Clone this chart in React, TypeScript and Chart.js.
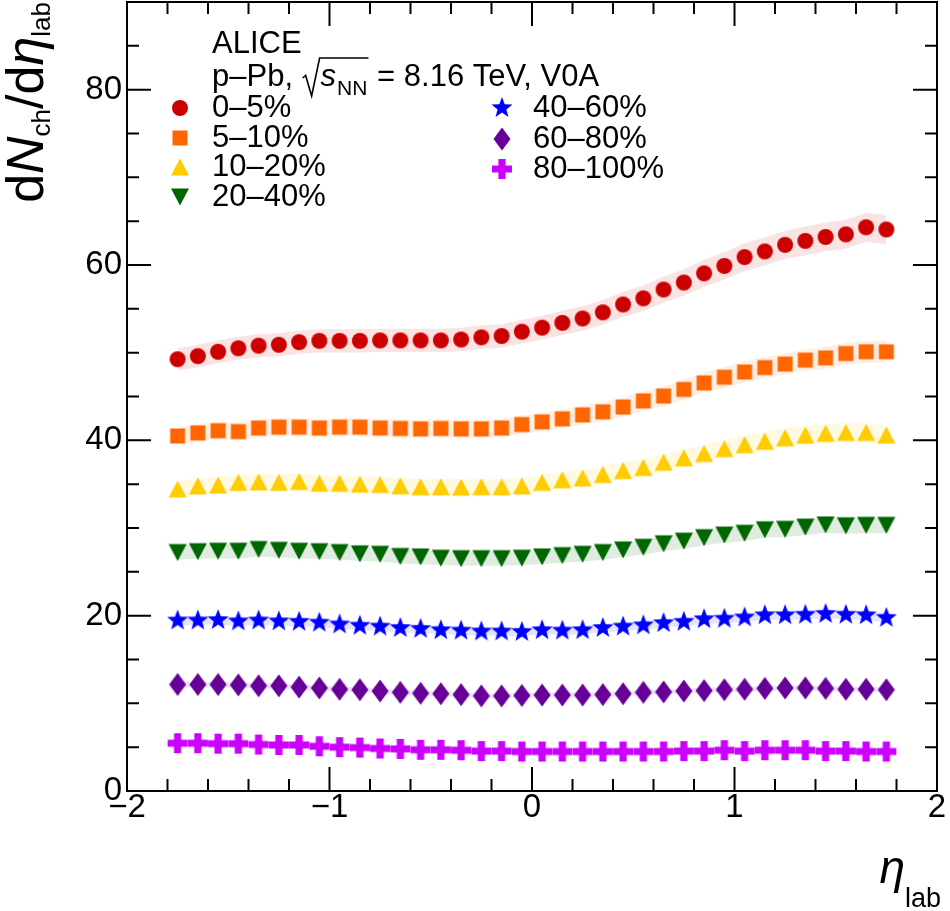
import { useEffect, useRef } from 'react';
import { Chart, registerables } from 'chart.js';
import type { Plugin } from 'chart.js';

Chart.register(...registerables);

// η_lab bin centres
const etaLab = [
  -1.75, -1.65, -1.55, -1.45, -1.35, -1.25, -1.15, -1.05, -0.95, -0.85, -0.75, -0.65,
  -0.55, -0.45, -0.35, -0.25, -0.15, -0.05, 0.05, 0.15, 0.25, 0.35, 0.45, 0.55,
  0.65, 0.75, 0.85, 0.95, 1.05, 1.15, 1.25, 1.35, 1.45, 1.55, 1.65, 1.75,
];

const cent0_5 = [
  49.25, 49.6, 50.1, 50.5, 50.8, 50.9, 51.2, 51.35, 51.35, 51.35, 51.4, 51.4,
  51.4, 51.4, 51.5, 51.75, 51.9, 52.4, 52.85, 53.4, 53.9, 54.6, 55.5, 56.2,
  57.2, 58.0, 59.05, 59.9, 60.9, 61.55, 62.3, 62.75, 63.2, 63.5, 64.3, 64.05,
];
const cent5_10 = [
  40.5, 40.85, 41.1, 41.0, 41.4, 41.5, 41.5, 41.4, 41.5, 41.5, 41.4, 41.35,
  41.3, 41.35, 41.3, 41.3, 41.4, 41.8, 42.1, 42.45, 42.9, 43.25, 43.8, 44.5,
  45.05, 45.8, 46.55, 47.2, 47.8, 48.3, 48.7, 49.15, 49.4, 49.9, 50.1, 50.1,
];
const cent10_20 = [
  34.45, 34.8, 34.9, 35.2, 35.25, 35.2, 35.3, 35.1, 35.1, 35.0, 34.95, 34.8,
  34.7, 34.7, 34.65, 34.7, 34.7, 34.8, 35.2, 35.5, 35.7, 36.1, 36.55, 36.9,
  37.5, 38.0, 38.5, 39.05, 39.5, 39.9, 40.3, 40.6, 40.8, 40.9, 40.9, 40.6,
];
const cent20_40 = [
  27.2, 27.3, 27.35, 27.35, 27.55, 27.45, 27.35, 27.3, 27.2, 27.05, 27.0, 26.75,
  26.7, 26.55, 26.5, 26.5, 26.5, 26.55, 26.7, 26.85, 27.0, 27.2, 27.5, 27.8,
  28.2, 28.5, 28.9, 29.2, 29.4, 29.8, 29.85, 30.1, 30.35, 30.25, 30.3, 30.3,
];
const cent40_60 = [
  19.45, 19.45, 19.5, 19.35, 19.45, 19.35, 19.3, 19.2, 19.0, 18.85, 18.75, 18.6,
  18.5, 18.35, 18.3, 18.2, 18.2, 18.15, 18.35, 18.3, 18.35, 18.6, 18.75, 18.9,
  19.15, 19.3, 19.6, 19.65, 19.8, 20.05, 20.05, 20.1, 20.2, 20.1, 20.05, 19.75,
];
const cent60_80 = [
  12.15, 12.15, 12.15, 12.1, 12.0, 12.0, 11.85, 11.75, 11.6, 11.55, 11.4, 11.25,
  11.15, 11.1, 11.0, 10.85, 10.85, 10.9, 10.95, 10.95, 10.95, 11.0, 11.1, 11.25,
  11.3, 11.4, 11.45, 11.55, 11.6, 11.7, 11.75, 11.75, 11.7, 11.6, 11.6, 11.55,
];
const cent80_100 = [
  5.45, 5.45, 5.4, 5.4, 5.3, 5.25, 5.25, 5.1, 5.0, 4.95, 4.85, 4.8,
  4.7, 4.7, 4.65, 4.55, 4.55, 4.5, 4.5, 4.5, 4.5, 4.5, 4.5, 4.5,
  4.5, 4.55, 4.55, 4.65, 4.55, 4.65, 4.65, 4.65, 4.55, 4.55, 4.5, 4.5,
];

const classLabels = ['0–5%', '5–10%', '10–20%', '20–40%', '40–60%', '60–80%', '80–100%'];
// relative systematic uncertainty (band half width)
const sysRel = [0.026, 0.025, 0.026, 0.03, 0.026, 0.026, 0.03];

const markerColors = ['#cc0000', '#ff6600', '#ffcc00', '#006600', '#0000ff', '#660099', '#cc00ff'];
const bandColors = [
  'rgba(204,0,0,0.11)',
  'rgba(255,102,0,0.11)',
  'rgba(255,204,0,0.12)',
  'rgba(0,102,0,0.12)',
  'rgba(0,0,255,0.11)',
  'rgba(102,0,153,0.11)',
  'rgba(204,0,255,0.11)',
];

type Shape = 'circle' | 'square' | 'triUp' | 'triDown' | 'star' | 'diamond' | 'cross';
const markerShapes: Shape[] = ['circle', 'square', 'triUp', 'triDown', 'star', 'diamond', 'cross'];

const FONT = '"Liberation Sans", Arial, Helvetica, sans-serif';
const LEG = 31;

function makeMarker(shape: Shape, color: string): HTMLCanvasElement {
  const size = 26;
  const c = document.createElement('canvas');
  c.width = size;
  c.height = size;
  const g = c.getContext('2d')!;
  g.fillStyle = color;
  g.translate(size / 2, size / 2);
  g.beginPath();
  switch (shape) {
    case 'circle':
      g.arc(0, 0, 8, 0, Math.PI * 2);
      break;
    case 'square':
      g.rect(-7.5, -7.5, 15, 15);
      break;
    case 'triUp':
      g.moveTo(0, -8.5);
      g.lineTo(9, 8.5);
      g.lineTo(-9, 8.5);
      g.closePath();
      break;
    case 'triDown':
      g.moveTo(0, 8.5);
      g.lineTo(9, -8.5);
      g.lineTo(-9, -8.5);
      g.closePath();
      break;
    case 'star':
      for (let k = 0; k < 10; k++) {
        const r = k % 2 === 0 ? 11 : 4.6;
        const a = -Math.PI / 2 + (k * Math.PI) / 5;
        if (k === 0) g.moveTo(r * Math.cos(a), r * Math.sin(a));
        else g.lineTo(r * Math.cos(a), r * Math.sin(a));
      }
      g.closePath();
      break;
    case 'diamond':
      g.moveTo(0, -11.5);
      g.lineTo(8.5, 0);
      g.lineTo(0, 11.5);
      g.lineTo(-8.5, 0);
      g.closePath();
      break;
    case 'cross': {
      const a = 10, t = 3.6;
      g.moveTo(-t, -a);
      g.lineTo(t, -a);
      g.lineTo(t, -t);
      g.lineTo(a, -t);
      g.lineTo(a, t);
      g.lineTo(t, t);
      g.lineTo(t, a);
      g.lineTo(-t, a);
      g.lineTo(-t, t);
      g.lineTo(-a, t);
      g.lineTo(-a, -t);
      g.lineTo(-t, -t);
      g.closePath();
      break;
    }
  }
  g.fill();
  return c;
}

const fmtTick = (v: number) => String(v).replace('-', '\u2212');

// inward ticks on all four sides plus the frame
const framePlugin: Plugin<'line'> = {
  id: 'rootFrame',
  afterDraw(chart) {
    const { ctx, chartArea: a, scales } = chart;
    const xs = scales.x;
    const ys = scales.y;
    ctx.save();
    ctx.strokeStyle = '#000';
    ctx.lineWidth = 2;
    ctx.beginPath();
    for (let i = -20; i <= 20; i += 2) {
      const v = i / 10;
      const px = xs.getPixelForValue(v);
      const len = i % 10 === 0 ? 24 : 12;
      ctx.moveTo(px, a.bottom);
      ctx.lineTo(px, a.bottom - len);
      ctx.moveTo(px, a.top);
      ctx.lineTo(px, a.top + len);
    }
    for (let v = 0; v <= 90; v += 5) {
      const py = ys.getPixelForValue(v);
      const len = v % 20 === 0 ? 24 : 12;
      ctx.moveTo(a.left, py);
      ctx.lineTo(a.left + len, py);
      ctx.moveTo(a.right, py);
      ctx.lineTo(a.right - len, py);
    }
    ctx.stroke();
    ctx.strokeRect(a.left, a.top, a.right - a.left, a.bottom - a.top);
    ctx.restore();
  },
};

type Run = { t: string; size: number; italic?: boolean; dy?: number };

function drawRuns(ctx: CanvasRenderingContext2D, runs: Run[], x: number, y: number) {
  let cx = x;
  for (const r of runs) {
    ctx.font = `${r.italic ? 'italic ' : ''}${r.size}px ${FONT}`;
    ctx.fillText(r.t, cx, y + (r.dy || 0));
    cx += ctx.measureText(r.t).width;
  }
  return cx;
}

function runsWidth(ctx: CanvasRenderingContext2D, runs: Run[]) {
  let w = 0;
  for (const r of runs) {
    ctx.font = `${r.italic ? 'italic ' : ''}${r.size}px ${FONT}`;
    w += ctx.measureText(r.t).width;
  }
  return w;
}

const makeTextPlugin = (markers: HTMLCanvasElement[]): Plugin<'line'> => ({
  id: 'rootText',
  afterDraw(chart) {
    const { ctx } = chart;
    ctx.save();
    ctx.fillStyle = '#000';
    ctx.strokeStyle = '#000';
    ctx.textBaseline = 'alphabetic';
    ctx.textAlign = 'left';

    // header
    ctx.font = `${LEG}px ${FONT}`;
    ctx.fillText('ALICE', 212, 53);
    let x = drawRuns(ctx, [{ t: 'p–Pb, ', size: LEG }], 212, 86);
    const rootW = runsWidth(ctx, [
      { t: 's', size: LEG, italic: true },
      { t: 'NN', size: 21 },
    ]);
    ctx.lineWidth = 1.6;
    ctx.beginPath();
    ctx.moveTo(x + 1, 78);
    ctx.lineTo(x + 4, 75.5);
    ctx.lineTo(x + 10, 96);
    ctx.lineTo(x + 18, 58);
    ctx.lineTo(x + 21 + rootW, 58);
    ctx.stroke();
    x = drawRuns(ctx, [{ t: 's', size: LEG, italic: true }], x + 19, 86);
    x = drawRuns(ctx, [{ t: 'NN', size: 21, dy: 9 }], x + 1, 86);
    drawRuns(ctx, [{ t: ' = 8.16 TeV, V0A', size: LEG }], x + 1, 86);

    // legend entries
    const rowsLeft = [108, 138, 167, 197];
    const rowsRight = [108, 139, 169];
    ctx.textBaseline = 'middle';
    ctx.font = `${LEG}px ${FONT}`;
    classLabels.forEach((lab, k) => {
      const left = k < 4;
      const y = left ? rowsLeft[k] : rowsRight[k - 4];
      const mx = left ? 180 : 502;
      const tx = left ? 212 : 533;
      const m = markers[k];
      ctx.drawImage(m, mx - m.width / 2, y - m.height / 2);
      ctx.fillText(lab, tx, y);
    });

    // y-axis title
    ctx.textBaseline = 'alphabetic';
    const yRuns: Run[] = [
      { t: 'd', size: 52 },
      { t: 'N', size: 52, italic: true },
      { t: 'ch', size: 26, dy: 7 },
      { t: '/d', size: 52 },
      { t: 'η', size: 52, italic: true },
      { t: 'lab', size: 26, dy: 7 },
    ];
    const yw = runsWidth(ctx, yRuns);
    ctx.save();
    ctx.translate(43, 2 + yw);
    ctx.rotate(-Math.PI / 2);
    drawRuns(ctx, yRuns, 0, 0);
    ctx.restore();

    // x-axis title
    const xRuns: Run[] = [
      { t: 'η', size: 46, italic: true },
      { t: 'lab', size: 27, dy: 24 },
    ];
    const xw = runsWidth(ctx, xRuns);
    drawRuns(ctx, xRuns, 941 - xw, 883);

    ctx.restore();
  },
});

const App = () => {
  const canvasRef = useRef<HTMLCanvasElement | null>(null);

  useEffect(() => {
    const canvas = canvasRef.current;
    if (!canvas) return;
    const existing = Chart.getChart(canvas);
    if (existing) existing.destroy();

    const markers = markerShapes.map((s, k) => makeMarker(s, markerColors[k]));
    const series = [cent0_5, cent5_10, cent10_20, cent20_40, cent40_60, cent60_80, cent80_100];

    const bandSets: any[] = series.flatMap((vals, k) => [
      {
        label: classLabels[k] + ' sys lo',
        data: etaLab.map((x, i) => ({ x, y: vals[i] * (1 - sysRel[k]) })),
        borderWidth: 0,
        pointRadius: 0,
        fill: false,
        order: 2,
      },
      {
        label: classLabels[k] + ' sys hi',
        data: etaLab.map((x, i) => ({ x, y: vals[i] * (1 + sysRel[k]) })),
        borderWidth: 0,
        pointRadius: 0,
        fill: '-1',
        backgroundColor: bandColors[k],
        order: 2,
      },
    ]);

    const pointSets: any[] = series.map((vals, k) => ({
      label: classLabels[k],
      data: etaLab.map((x, i) => ({ x, y: vals[i] })),
      showLine: false,
      pointStyle: markers[k],
      pointRadius: 8,
      pointHoverRadius: 8,
      order: 1,
    }));

    const chart = new Chart(canvas, {
      type: 'line',
      data: { datasets: [...bandSets, ...pointSets] },
      options: {
        responsive: false,
        animation: false,
        events: [],
        layout: { autoPadding: false, padding: { top: 2, right: 13, left: 0, bottom: 0 } },
        plugins: {
          legend: { display: false },
          tooltip: { enabled: false },
        },
        scales: {
          x: {
            type: 'linear',
            min: -2,
            max: 2,
            grid: { display: false, drawTicks: false },
            border: { display: false },
            ticks: {
              stepSize: 1,
              padding: 0,
              color: '#000',
              maxRotation: 0,
              autoSkip: false,
              font: { family: FONT, size: 33, lineHeight: 1 },
              callback: (v) => fmtTick(Number(v)),
            },
            afterFit: (s: any) => {
              s.height = 120;
              s.paddingLeft = 0;
              s.paddingRight = 0;
            },
          },
          y: {
            type: 'linear',
            min: 0,
            max: 90,
            grid: { display: false, drawTicks: false },
            border: { display: false },
            ticks: {
              stepSize: 20,
              includeBounds: false,
              padding: 5,
              color: '#000',
              font: { family: FONT, size: 33, lineHeight: 1 },
              callback: (v) => fmtTick(Number(v)),
            },
            afterFit: (s: any) => {
              s.width = 127;
              s.paddingTop = 0;
              s.paddingBottom = 0;
            },
          },
        },
      },
      plugins: [framePlugin, makeTextPlugin(markers)],
    });

    return () => {
      chart.destroy();
    };
  }, []);

  return (
    <div style={{ position: 'absolute', left: 0, top: 0, width: 950, height: 911, background: '#fff' }}>
      <canvas ref={canvasRef} width={950} height={911} style={{ display: 'block' }} />
    </div>
  );
};

export default App;
